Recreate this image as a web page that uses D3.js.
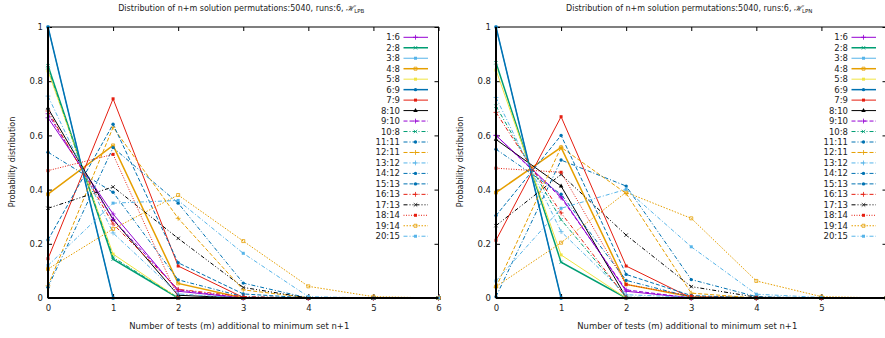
<!DOCTYPE html>
<html>
<head>
<meta charset="utf-8">
<script src="https://cdn.jsdelivr.net/npm/d3@7"></script>
<style>
  body { margin: 0; background: #fff; }
  text { font-family: "DejaVu Sans", sans-serif; fill: #222; }
</style>
</head>
<body>
<div id="chart"></div>
<script>
// series labels (legend)
var seriesNames = ["1:6", "2:8", "3:8", "4:8", "5:8", "6:9", "7:9", "8:10", "9:10", "10:8",
                   "11:11", "12:11", "13:12", "14:12", "15:13", "16:13", "17:13", "18:14", "19:14", "20:15"];
var xValues = [0, 1, 2, 3, 4, 5, 6];
var yTicks = [0, 0.2, 0.4, 0.6, 0.8, 1];
var panelTitles = ["LPB", "LPN"];

// probabilities, m = 0..6
var lpbValues = [
    [0.665, 0.31, 0.025, 0, 0, 0, 0],
    [0.857, 0.143, 0, 0, 0, 0, 0],
    [1, 0, 0, 0, 0, 0, 0],
    [0.383, 0.563, 0.054, 0, 0, 0, 0],
    [0.838, 0.162, 0, 0, 0, 0, 0],
    [1, 0, 0, 0, 0, 0, 0],
    [0.145, 0.735, 0.118, 0.002, 0, 0, 0],
    [0.70, 0.29, 0.01, 0, 0, 0, 0],
    [0.68, 0.29, 0.03, 0, 0, 0, 0],
    [0.85, 0.15, 0, 0, 0, 0, 0],
    [0.538, 0.39, 0.067, 0.005, 0, 0, 0],
    [0.045, 0.63, 0.294, 0.03, 0.001, 0, 0],
    [0.745, 0.24, 0.015, 0, 0, 0, 0],
    [0.04, 0.555, 0.35, 0.055, 0, 0, 0],
    [0.214, 0.641, 0.13, 0.015, 0, 0, 0],
    [0.69, 0.273, 0.032, 0.005, 0, 0, 0],
    [0.331, 0.41, 0.22, 0.039, 0, 0, 0],
    [0.47, 0.53, 0, 0, 0, 0, 0],
    [0.107, 0.255, 0.38, 0.21, 0.043, 0.005, 0],
    [0.12, 0.35, 0.36, 0.165, 0.005, 0, 0]
];
var lpnValues = [
    [0.60, 0.375, 0.025, 0, 0, 0, 0],
    [0.868, 0.132, 0, 0, 0, 0, 0],
    [1, 0, 0, 0, 0, 0, 0],
    [0.389, 0.556, 0.05, 0.005, 0, 0, 0],
    [0.841, 0.159, 0, 0, 0, 0, 0],
    [1, 0, 0, 0, 0, 0, 0],
    [0.213, 0.669, 0.118, 0, 0, 0, 0],
    [0.585, 0.413, 0.002, 0, 0, 0, 0],
    [0.60, 0.37, 0.03, 0, 0, 0, 0],
    [0.708, 0.289, 0.003, 0, 0, 0, 0],
    [0.549, 0.383, 0.065, 0.003, 0, 0, 0],
    [0.04, 0.556, 0.386, 0.018, 0, 0, 0],
    [0.74, 0.245, 0.012, 0.003, 0, 0, 0],
    [0.005, 0.509, 0.413, 0.068, 0.005, 0, 0],
    [0.304, 0.60, 0.087, 0.009, 0, 0, 0],
    [0.685, 0.314, 0.001, 0, 0, 0, 0],
    [0.267, 0.456, 0.232, 0.042, 0.003, 0, 0],
    [0.479, 0.464, 0.05, 0.007, 0, 0, 0],
    [0.042, 0.204, 0.39, 0.294, 0.063, 0.005, 0],
    [0.063, 0.331, 0.401, 0.189, 0.014, 0.002, 0]
];

// gnuplot-like styles per series
var colors = ["#9400d3", "#009e73", "#56b4e9", "#e69f00", "#f0e442", "#0072b2", "#e51e10", "#000000",
              "#9400d3", "#009e73", "#0072b2", "#e69f00", "#56b4e9", "#0072b2", "#0072b2", "#e51e10",
              "#000000", "#e51e10", "#e69f00", "#56b4e9"];
var widths = [1, 1.5, 1, 1.5, 1, 1.5, 1, 1, 1, 1, 1, 1, 1, 1, 1, 1, 1, 1, 1, 1];
var dashes = [null, null, null, null, null, null, null, null,
              "4,2", "4,2,1,2", "4,2,1,2", "4,2", "4,2,1,2", "4,2,1,2", "4,2", "4,2,1,2",
              "4,2,1,2,1,2", "1,1.5", "1.5,1.5", "4,2,1,2"];
var symbols = [d3.symbolPlus, d3.symbolTimes, d3.symbolSquare, d3.symbolSquare, d3.symbolSquare,
               d3.symbolCircle, d3.symbolSquare, d3.symbolTriangle, d3.symbolPlus, d3.symbolTimes,
               d3.symbolCircle, d3.symbolPlus, d3.symbolPlus, d3.symbolCircle, d3.symbolCircle,
               d3.symbolPlus, d3.symbolTimes, d3.symbolSquare, d3.symbolSquare, d3.symbolSquare];
var openSym = [true, true, false, true, false, false, false, false, true, true,
               false, true, true, false, false, true, true, false, true, false];

var w = 885, h = 338;
var svg = d3.select("#chart").append("svg").attr("width", w).attr("height", h);

function drawPanel(values, x0, title) {
    var xScale = d3.scaleLinear().domain([0, 6]).range([x0, x0 + 390.5]);
    var yScale = d3.scaleLinear().domain([0, 1]).range([298, 27]);
    var g = svg.append("g");

    // frame
    g.append("rect")
        .attr("x", xScale(0)).attr("y", yScale(1))
        .attr("width", xScale(6) - xScale(0)).attr("height", yScale(0) - yScale(1))
        .attr("fill", "none").attr("stroke", "#000").attr("stroke-width", 1);

    // x tick labels that would fall outside the window are not drawn
    var xLabelTicks = xValues.filter(function(v) { return xScale(v) < w - 4; });

    var yAxis = d3.axisLeft(yScale).tickValues(yTicks).tickSize(-4).tickPadding(5)
        .tickFormat(function(d) { return d; });
    var yAxisR = d3.axisRight(yScale).tickValues(yTicks).tickSize(-4).tickFormat("");
    var xAxis = d3.axisBottom(xScale).tickValues(xLabelTicks).tickSize(-4).tickPadding(7)
        .tickFormat(d3.format("d"));
    var xAxisT = d3.axisTop(xScale).tickValues(xValues).tickSize(-4).tickFormat("");

    g.append("g").attr("transform", "translate(" + xScale(0) + ",0)").call(yAxis);
    g.append("g").attr("transform", "translate(" + xScale(6) + ",0)").call(yAxisR);
    g.append("g").attr("transform", "translate(0," + yScale(0) + ")").call(xAxis);
    g.append("g").attr("transform", "translate(0," + yScale(1) + ")").call(xAxisT);
    g.selectAll(".domain").remove();
    g.selectAll(".tick line").attr("stroke", "#000");
    g.selectAll(".tick text").attr("font-size", 8.5).attr("fill", "#222")
        .style("font-family", "'DejaVu Sans', sans-serif");

    var line = d3.line()
        .x(function(d, i) { return xScale(xValues[i]); })
        .y(function(d) { return yScale(d); });

    values.forEach(function(vals, s) {
        g.append("path")
            .attr("d", line(vals))
            .attr("fill", "none")
            .attr("stroke", colors[s])
            .attr("stroke-width", widths[s])
            .attr("stroke-dasharray", dashes[s]);
        g.selectAll(null)
            .data(vals)
            .join("path")
            .attr("transform", function(d, i) { return "translate(" + xScale(xValues[i]) + "," + yScale(d) + ")"; })
            .attr("d", d3.symbol().type(symbols[s]).size(9))
            .attr("fill", openSym[s] ? "none" : colors[s])
            .attr("stroke", openSym[s] ? colors[s] : "none")
            .attr("stroke-width", 0.8);
    });

    // thicker left and bottom axis lines
    g.append("line").attr("x1", xScale(0)).attr("x2", xScale(0)).attr("y1", yScale(0)).attr("y2", yScale(1))
        .attr("stroke", "#000").attr("stroke-width", 2);
    g.append("line").attr("x1", xScale(0)).attr("x2", xScale(6)).attr("y1", yScale(0)).attr("y2", yScale(0))
        .attr("stroke", "#000").attr("stroke-width", 2);

    // legend
    var legX = xScale(0) + 352;
    seriesNames.forEach(function(name, s) {
        var ly = 37.3 + s * 10.47;
        g.append("text").attr("x", legX).attr("y", ly + 3).attr("text-anchor", "end")
            .attr("font-size", 8.5).text(name);
        g.append("line").attr("x1", legX + 3.5).attr("x2", legX + 28).attr("y1", ly).attr("y2", ly)
            .attr("stroke", colors[s]).attr("stroke-width", widths[s])
            .attr("stroke-dasharray", dashes[s]);
        g.append("path").attr("transform", "translate(" + (legX + 15.5) + "," + ly + ")")
            .attr("d", d3.symbol().type(symbols[s]).size(9))
            .attr("fill", openSym[s] ? "none" : colors[s])
            .attr("stroke", openSym[s] ? colors[s] : "none")
            .attr("stroke-width", 0.8);
    });

    // title with script H and subscript
    var t = g.append("text").attr("x", xScale(3) - 2).attr("y", 11).attr("text-anchor", "middle")
        .attr("font-size", 8);
    t.append("tspan").text("Distribution of n+m solution permutations:5040, runs:6, ");
    t.append("tspan").attr("font-family", "'DejaVu Serif', serif").attr("font-style", "italic").text("\u210B");
    t.append("tspan").attr("font-size", 5.5).attr("dy", 2).text(title);

    // axis titles
    g.append("text").attr("x", xScale(3) - 4).attr("y", 329).attr("text-anchor", "middle")
        .attr("font-size", 8).attr("textLength", 220).attr("lengthAdjust", "spacingAndGlyphs")
        .text("Number of tests (m) additional to minimum set n+1");
    g.append("text").attr("transform", "translate(" + (x0 - 33) + ",162) rotate(-90)")
        .attr("text-anchor", "middle").attr("font-size", 8)
        .text("Probability distribution");
}

drawPanel(lpbValues, 48, panelTitles[0]);
drawPanel(lpnValues, 496, panelTitles[1]);
</script>
</body>
</html>
